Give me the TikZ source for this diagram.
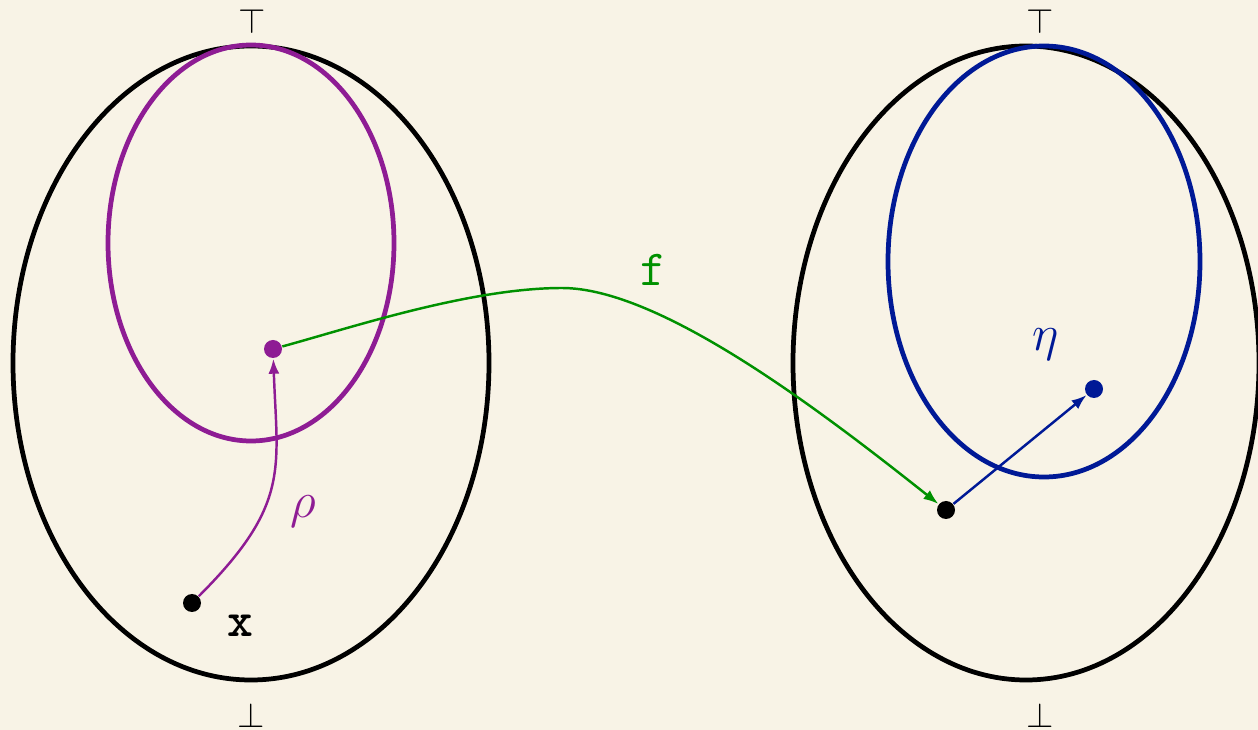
\documentclass[tikz,border=0pt]{standalone}
\usepackage{xcolor}
\usepackage{tikz}
\usepackage{amsmath}
\usepackage{amssymb}
\usetikzlibrary{arrows.meta,positioning,calc}
\definecolor{latPurple} {RGB}{142,  28, 148}
\definecolor{latBlue}   {RGB}{  0,  25, 150}
\definecolor{latGreen}  {RGB}{  0, 145,   0}
\definecolor{latPaper}  {RGB}{248, 243, 230}

\begin{document}
\begin{tikzpicture}[
    dot/.style={circle,fill=#1,inner sep=0pt,minimum size=1.8mm},
    lattice/.style={line width=1.35pt},
    lab/.style={font=\fontsize{14}{16}\selectfont},
    bnd/.style={font=\fontsize{10}{12}\selectfont}]
        % Fundo
        \fill[latPaper] (0,0) rectangle (12.58,7.30);
        \useasboundingbox (0,0) rectangle (12.58,7.30);
        % Reticulados
        \draw[lattice,black] (2.51,3.67) ellipse [x radius=2.38,y radius=3.17];
        \draw[lattice,latPurple] (2.51,4.87) ellipse [x radius=1.43,y radius=1.98];
        \draw[lattice,black] (10.26,3.67) ellipse [x radius=2.33,y radius=3.17];
        \draw[lattice,latBlue] (10.44,4.685) ellipse [x radius=1.56,y radius=2.155];
        \node[bnd] (top1) at (2.52,7.09) {$\top$};
        \node[bnd] (bot1) at (2.51,0.15) {$\bot$};
        \node[bnd] (top2) at (10.40,7.09) {$\top$};
        \node[bnd] (bot2) at (10.40,0.15) {$\bot$};
        % Pontos
        \node[dot=black] (x) at (1.92,1.27) {};
        \node[dot=latPurple] (rx) at (2.73,3.81) {};
        \node[dot=black] (fx) at (9.46,2.20) {};
        \node[dot=latBlue] (ex) at (10.94,3.41) {};
        \node[lab] (xlab) at (2.40,1.04) {\texttt{\textbf{x}}};
        % Setas
        \draw[latPurple,line width=0.7pt,-{Latex[length=1.5mm,width=1.1mm]}]
          (x) .. controls +(45:1.4) and +(-88:1.2) .. (rx);
        \node[lab,text=latPurple] (rholab) at (3.03,2.18) {$\rho$};
        \draw[latGreen,line width=0.7pt,-{Latex[length=1.5mm,width=1.1mm]}]
          (rx) .. controls (3.5,4.02) and (4.7,4.42) .. (5.62,4.42)
          .. controls (6.6,4.42) and (8.2,3.2) .. (fx);
        \node[lab,text=latGreen] (flab) at (6.53,4.60) {$\mathtt{f}$};
        \draw[latBlue,line width=0.7pt,-{Latex[length=1.5mm,width=1.1mm]}]
          (fx) -- (ex);
        \node[lab,text=latBlue] (etalab) at (10.46,3.85) {$\eta$};
      \end{tikzpicture}
\end{document}
